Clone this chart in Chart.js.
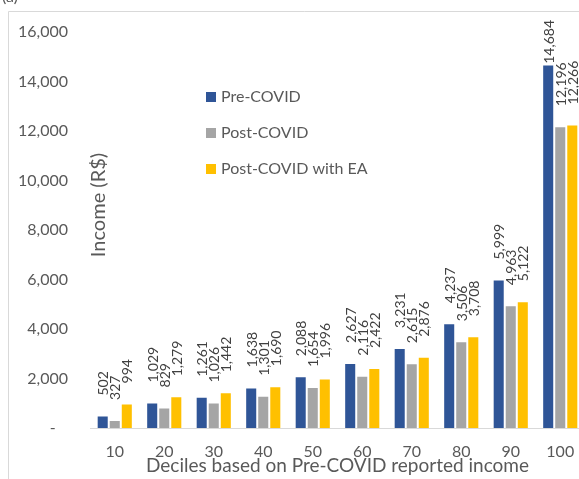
<!DOCTYPE html>
<html>
<head>
<meta charset="utf-8">
<script src="https://cdn.jsdelivr.net/npm/chart.js@4"></script>
<style>
  html, body { margin: 0; padding: 0; overflow: hidden; background: #fff; }
  canvas { display: block; }
</style>
</head>
<body>
<canvas id="chart" width="600" height="479"></canvas>
<script>
// deciles of pre-covid reported income
const deciles = ['10', '20', '30', '40', '50', '60', '70', '80', '90', '100'];

const preCovid = [502, 1029, 1261, 1638, 2088, 2627, 3231, 4237, 5999, 14684];
const postCovid = [327, 829, 1026, 1301, 1654, 2116, 2615, 3506, 4963, 12196];
const postCovidEA = [994, 1279, 1442, 1690, 1996, 2422, 2876, 3708, 5122, 12266];

const seriesNames = ['Pre-COVID', 'Post-COVID', 'Post-COVID with EA'];
const seriesColors = ['#2F5597', '#A5A5A5', '#FFC000'];

const yMax = 16000;
const yStep = 2000;

const FONT = 'Lato, "Open Sans", sans-serif';
const TEXT = '#595959';

const fmt = v => v.toLocaleString('en-US');

// frame + the cut-off panel letter
const framePlugin = {
  id: 'frame',
  beforeDraw(chart) {
    const ctx = chart.ctx;
    ctx.save();
    ctx.fillStyle = '#fff';
    ctx.fillRect(0, 0, chart.width, chart.height);
    ctx.strokeStyle = '#D9D9D9';
    ctx.lineWidth = 1;
    ctx.beginPath();
    ctx.moveTo(8.5, chart.height);
    ctx.lineTo(8.5, 11.5);
    ctx.lineTo(chart.width, 11.5);
    ctx.stroke();
    ctx.fillStyle = TEXT;
    ctx.font = '16px ' + FONT;
    ctx.textBaseline = 'alphabetic';
    ctx.fillText('(a)', 2, 2);
    ctx.restore();
  }
};

// rotated value labels above bars
const valueLabels = {
  id: 'valueLabels',
  afterDatasetsDraw(chart) {
    const ctx = chart.ctx;
    ctx.save();
    ctx.font = '14px ' + FONT;
    ctx.fillStyle = '#404040';
    ctx.textAlign = 'left';
    ctx.textBaseline = 'middle';
    chart.data.datasets.forEach((ds, i) => {
      const meta = chart.getDatasetMeta(i);
      meta.data.forEach((bar, j) => {
        const txt = fmt(ds.data[j]);
        const w = ctx.measureText(txt).width;
        let y = bar.y - 20;
        if (y - w < 20) y = 20 + w;
        ctx.save();
        ctx.translate(bar.x + 1, y);
        ctx.rotate(-Math.PI / 2);
        ctx.fillText(txt, 0, 0);
        ctx.restore();
      });
    });
    ctx.restore();
  }
};

// legend and axis titles, placed like the original
const extras = {
  id: 'extras',
  afterDraw(chart) {
    const ctx = chart.ctx;
    const area = chart.chartArea;
    ctx.save();
    ctx.font = '16px ' + FONT;
    ctx.textBaseline = 'middle';
    ctx.textAlign = 'left';
    const rows = [97, 133, 169];
    seriesNames.forEach((name, i) => {
      ctx.fillStyle = seriesColors[i];
      ctx.fillRect(206, rows[i] - 5, 10, 10);
      ctx.fillStyle = TEXT;
      ctx.fillText(name, 221, rows[i]);
    });

    ctx.textAlign = 'center';
    ctx.font = '19px ' + FONT;
    ctx.fillText('Deciles based on Pre-COVID reported income', (area.left + area.right) / 2, 466);

    ctx.font = '20px ' + FONT;
    ctx.translate(99, 205);
    ctx.rotate(-Math.PI / 2);
    ctx.fillText('Income (R$)', 0, 0);
    ctx.restore();
  }
};

new Chart(document.getElementById('chart'), {
  type: 'bar',
  data: {
    labels: deciles,
    datasets: [
      { label: seriesNames[0], data: preCovid, backgroundColor: seriesColors[0] },
      { label: seriesNames[1], data: postCovid, backgroundColor: seriesColors[1] },
      { label: seriesNames[2], data: postCovidEA, backgroundColor: seriesColors[2] }
    ]
  },
  options: {
    responsive: false,
    animation: false,
    devicePixelRatio: 1,
    layout: { padding: { top: 32, right: 15, left: 0, bottom: 0 } },
    datasets: {
      bar: {
        categoryPercentage: 0.73,
        barPercentage: 1.0,
        borderColor: 'rgba(255,255,255,0.7)',
        borderWidth: 1
      }
    },
    plugins: {
      legend: { display: false },
      tooltip: { enabled: false }
    },
    scales: {
      x: {
        grid: { display: false },
        border: { display: true, color: '#D9D9D9', width: 1 },
        ticks: { color: TEXT, font: { family: FONT, size: 16 }, padding: 6, maxRotation: 0 },
        afterFit: s => { s.height = 51; }
      },
      y: {
        min: 0,
        max: yMax,
        grid: { display: false, drawTicks: false },
        border: { display: false },
        ticks: {
          stepSize: yStep,
          padding: 22,
          color: TEXT,
          font: { family: FONT, size: 16 },
          callback: v => v === 0 ? '-   ' : fmt(v)
        },
        afterFit: s => { s.width = 90; }
      }
    }
  },
  plugins: [framePlugin, valueLabels, extras]
});
</script>
</body>
</html>
